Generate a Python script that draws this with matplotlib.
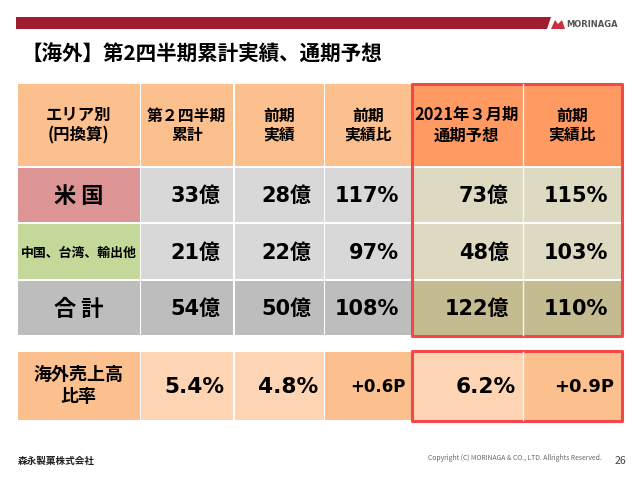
import matplotlib
matplotlib.use("Agg")
import matplotlib.pyplot as plt
from matplotlib.patches import Rectangle, Polygon

plt.rcParams['font.family'] = ['Noto Sans CJK JP', 'DejaVu Sans']
NUM_FONT = ['DejaVu Sans', 'Noto Sans CJK JP']

title = "【海外】第2四半期累計実績、通期予想"
headers = ["エリア別\n(円換算)", "第２四半期\n累計", "前期\n実績", "前期\n実績比", "2021年３月期\n通期予想", "前期\n実績比"]
areas = ["米 国", "中国、台湾、輸出他", "合 計"]
q2_total = ["33億", "21億", "54億"]
prev_actual = ["28億", "22億", "50億"]
prev_ratio = ["117%", "97%", "108%"]
forecast = ["73億", "48億", "122億"]
forecast_ratio = ["115%", "103%", "110%"]
share_label = "海外売上高\n比率"
share_values = ["5.4%", "4.8%", "+0.6P", "6.2%", "+0.9P"]

col_x = [(18, 139.5), (140.5, 233), (234.5, 323.5), (325, 411), (411, 522.5), (523.5, 621)]
row_y = [(84, 165.5), (167.5, 222), (224, 279), (280.5, 335)]
share_y = (352, 420)
body_right = [220, 311, 399, 509, 608]

fig = plt.figure(figsize=(6.4, 4.8), dpi=100)
ax = fig.add_axes([0, 0, 1, 1])
ax.set_xlim(0, 640)
ax.set_ylim(480, 0)
ax.axis('off')


def cell(c, y, color):
    ax.add_patch(Rectangle((c[0], y[0]), c[1] - c[0], y[1] - y[0], fc=color, ec='none'))


# banner and logo
ax.add_patch(Polygon([(16, 17), (551, 17), (547, 29), (16, 29)], fc='#a01c2f', ec='none'))
ax.add_patch(Polygon([(551, 29), (555, 20), (558, 24), (562, 20), (565, 29)], fc='#c8323c', ec='none'))
ax.text(566, 24.5, "MORINAGA", fontsize=6.0, fontweight='bold', color='#555555', ha='left', va='center', family='DejaVu Sans')

ax.text(21, 54, title, fontsize=14.8, fontweight='bold', color='#000000', ha='left', va='center')

# header row
head_colors = ['#fcc08f'] * 4 + ['#ff9a62'] * 2
head_sizes = [11.8, 11.4, 11.4, 11.4, 11.8, 11.4]
for c, color, label, fs in zip(col_x, head_colors, headers, head_sizes):
    cell(c, row_y[0], color)
    ax.text((c[0] + c[1]) / 2, 125.5, label, fontsize=fs, fontweight='bold', color='#000000', ha='center', va='center', linespacing=1.2)

# body rows
area_colors = ['#dd9494', '#c4d89a', '#bdbdbd']
grey = ['#d8d8d8', '#d8d8d8', '#bdbdbd']
tan = ['#dedac2', '#dedac2', '#c4bc90']
area_sizes = [16, 9.3, 16]
columns = [q2_total, prev_actual, prev_ratio, forecast, forecast_ratio]
for r in range(3):
    y = row_y[r + 1]
    ym = (y[0] + y[1]) / 2
    cell(col_x[0], y, area_colors[r])
    ax.text((col_x[0][0] + col_x[0][1]) / 2, ym + 1.5, areas[r], fontsize=area_sizes[r], fontweight='bold', color='#000000', ha='center', va='center')
    for k, vals in enumerate(columns):
        c = col_x[k + 1]
        cell(c, y, grey[r] if k < 3 else tan[r])
        ax.text(body_right[k], ym + 1.5, vals[r], fontsize=15, fontweight='bold', color='#000000', ha='right', va='center', family=NUM_FONT)

# share row
share_colors = ['#fcc08f', '#fdd5b4', '#fdd5b4', '#fcc08f', '#fdd5b4', '#fcc08f']
share_right = [225, 318, 406, 516, 614]
share_sizes = [15.6, 15.6, 12, 15.6, 13]
for c, color in zip(col_x, share_colors):
    cell(c, share_y, color)
ym = (share_y[0] + share_y[1]) / 2
ax.text((col_x[0][0] + col_x[0][1]) / 2, ym - 0.5, share_label, fontsize=13, fontweight='bold', color='#000000', ha='center', va='center', linespacing=1.15)
for v, xr, fs in zip(share_values, share_right, share_sizes):
    ax.text(xr, ym + 1, v, fontsize=fs, fontweight='bold', color='#000000', ha='right', va='center', family=NUM_FONT)

# white separator in highlighted columns
ax.plot([523, 523], [84, 335], color='#f4f4f4', lw=1)
ax.plot([523, 523], [352, 420], color='#f4f4f4', lw=1)

# red highlight boxes
for (y0, y1) in [(84, 336), (351, 421)]:
    ax.add_patch(Rectangle((412, y0), 210, y1 - y0, fc='none', ec='#f4474a', lw=2.2, joinstyle='round'))

# footer
ax.text(18, 461, "森永製菓株式会社", fontsize=6.9, fontweight='bold', color='#222222', ha='left', va='center')
ax.text(428, 458, "Copyright (C) MORINAGA & CO., LTD. Allrights Reserved.", fontsize=4.9, color='#666666', ha='left', va='center')
ax.text(620, 461, "26", fontsize=7.5, color='#444444', ha='center', va='center')

fig.savefig("out.png", dpi=100)
